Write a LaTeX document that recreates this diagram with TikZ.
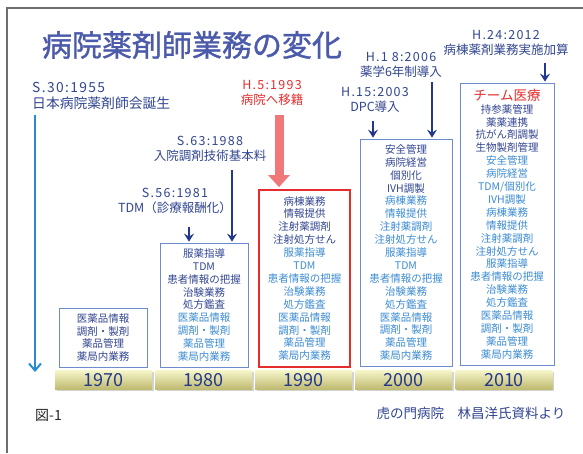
\documentclass[tikz,border=0pt]{standalone}
\usepackage{fontspec}
\setmainfont{Noto Sans CJK JP}
\usetikzlibrary{arrows.meta,shadows}
\definecolor{navy}{RGB}{50,70,145}
\definecolor{ltblue}{RGB}{60,140,210}
\definecolor{boxblue}{RGB}{110,140,205}
\definecolor{redc}{RGB}{230,45,45}
\definecolor{redarrow}{RGB}{240,120,120}
\definecolor{arrnavy}{RGB}{35,55,140}
\definecolor{tlblue}{RGB}{40,140,210}
\definecolor{framegray}{RGB}{110,110,110}
\definecolor{bartop}{RGB}{245,245,200}
\definecolor{barbot}{RGB}{190,185,110}
\definecolor{titleblue}{RGB}{75,90,170}
\newcommand\dkl[1]{\textcolor{navy}{#1}}
\newcommand\ltl[1]{\textcolor{ltblue}{#1}}
\newcommand\wdate[1]{{\addfontfeature{LetterSpace=10}#1}}
\begin{document}
\begin{tikzpicture}[x=1pt,y=-1pt,
  era/.style={draw=boxblue, line width=0.8pt, inner sep=0pt, align=center, font=\fontsize{10.5}{12.9}\selectfont},
  yearbar/.style={minimum width=97pt, minimum height=19pt, inner sep=0pt, top color=bartop, bottom color=barbot, draw=none, drop shadow={shadow xshift=1.5pt,shadow yshift=-1.5pt,opacity=0.35}, font=\fontsize{18}{18}\selectfont, text=arrnavy},
  evlabel/.style={align=center, font=\fontsize{12.5}{15}\selectfont, text=navy, inner sep=0pt},
  navyarrow/.style={draw=arrnavy, line width=2pt, shorten >=1pt, -{Stealth[length=8pt,width=10pt,inset=3pt]}},
  titlestyle/.style={font=\fontsize{30}{30}\selectfont\addfontfeature{FakeBold=1.2}, text=titleblue, inner sep=0pt},
]
\useasboundingbox (0,0) rectangle (583,453);
\fill[white] (0,0) rectangle (583,453);
% frame
\draw[framegray, line width=1.6pt] (7,453) -- (7,8) -- (583,8);
% title
\node[titlestyle] (title) at (192,45) {病院薬剤師業務の変化};

% event labels
\node[evlabel, anchor=west, align=left, font=\fontsize{13.8}{16}\selectfont] (l1955) at (32,96) {\wdate{S.30:1955}\\日本病院薬剤師会誕生};
\node[evlabel, text=redc] (l1993) at (272,93) {\wdate{H.5:1993}\\病院へ移籍};
\node[evlabel] (l1988) at (210,149) {\wdate{S.63:1988}\\入院調剤技術基本料};
\node[evlabel] (l1981) at (175,201) {\wdate{S.56:1981}\\TDM（診療報酬化）};
\node[evlabel] (l2003) at (375,100) {\wdate{H.15:2003}\\DPC導入};
\node[evlabel] (l2006) at (401,65) {\wdate{H.1 8:2006}\\薬学6年制導入};
\node[evlabel] (l2012) at (506,43) {\wdate{H.24:2012}\\病棟薬剤業務実施加算};

% era boxes
\node[era, minimum width=88pt, minimum height=59pt] (b1970) at (103,337.5)
 {\dkl{医薬品情報}\\\dkl{調剤・製剤}\\\dkl{薬品管理}\\\dkl{薬局内業務}};
\node[era, minimum width=88pt, minimum height=124pt] (b1980) at (204,305)
 {\dkl{服薬指導}\\\dkl{TDM}\\\dkl{患者情報の把握}\\\dkl{治験業務}\\\dkl{処方鑑査}\\
  \ltl{医薬品情報}\\\ltl{調剤・製剤}\\\ltl{薬品管理}\\\ltl{薬局内業務}};
\node[era, draw=redc, line width=1.8pt, minimum width=91pt, minimum height=177pt] (b1990) at (304.5,278.5)
 {\dkl{病棟業務}\\\dkl{情報提供}\\\dkl{注射薬調剤}\\\dkl{注射処方せん}\\
  \ltl{服薬指導}\\\ltl{TDM}\\\ltl{患者情報の把握}\\\ltl{治験業務}\\\ltl{処方鑑査}\\
  \ltl{医薬品情報}\\\ltl{調剤・製剤}\\\ltl{薬品管理}\\\ltl{薬局内業務}};
\node[era, minimum width=92pt, minimum height=227pt] (b2000) at (406,252.5)
 {\dkl{安全管理}\\\dkl{病院経営}\\\dkl{個別化}\\\dkl{IVH調製}\\
  \ltl{病棟業務}\\\ltl{情報提供}\\\ltl{注射薬調剤}\\\ltl{注射処方せん}\\
  \ltl{服薬指導}\\\ltl{TDM}\\\ltl{患者情報の把握}\\\ltl{治験業務}\\\ltl{処方鑑査}\\
  \ltl{医薬品情報}\\\ltl{調剤・製剤}\\\ltl{薬品管理}\\\ltl{薬局内業務}};
\node[era, minimum width=94pt, minimum height=282pt] (b2010) at (507,224)
 {{\fontsize{13.5}{15}\selectfont\textcolor{redc}{チーム医療}}\\
  \dkl{持参薬管理}\\\dkl{薬薬連携}\\\dkl{抗がん剤調製}\\\dkl{生物製剤管理}\\
  \ltl{安全管理}\\\ltl{病院経営}\\\ltl{TDM/個別化}\\\ltl{IVH調製}\\
  \ltl{病棟業務}\\\ltl{情報提供}\\\ltl{注射薬調剤}\\\ltl{注射処方せん}\\
  \ltl{服薬指導}\\\ltl{患者情報の把握}\\\ltl{治験業務}\\\ltl{処方鑑査}\\
  \ltl{医薬品情報}\\\ltl{調剤・製剤}\\\ltl{薬品管理}\\\ltl{薬局内業務}};

% year bars
\node[yearbar] (y1970) at (103.5,380) {1970};
\node[yearbar] (y1980) at (203.5,380) {1980};
\node[yearbar] (y1990) at (303.5,380) {1990};
\node[yearbar] (y2000) at (403.5,380) {2000};
\node[yearbar] (y2010) at (504,380) {2010};

% timeline arrow
\coordinate (tlstart) at (35,115);
\coordinate (tlend) at (35,372);
\draw[tlblue, line width=2pt, -{Straight Barb[length=7pt,width=12pt]}] (tlstart) -- (tlend);

% red arrow
\coordinate (rstart) at (279,115);
\draw[redarrow, line width=9pt, shorten >=2pt, -{Triangle[length=12pt,width=21pt]}] (rstart) -- (b1990.north -| rstart);

% navy arrows
\coordinate (a1981) at (189,227);
\coordinate (a1988) at (232,170);
\coordinate (a2003) at (373,121);
\coordinate (a2006) at (432,82);
\coordinate (a2012) at (545,63);
\draw[navyarrow] (a1981) -- (b1980.north -| a1981);
\draw[navyarrow] (a1988) -- (b1980.north -| a1988);
\draw[navyarrow] (a2003) -- (b2000.north -| a2003);
\draw[navyarrow] (a2006) -- (b2000.north -| a2006);
\draw[navyarrow] (a2012) -- (b2010.north -| a2012);

% footer
\node[anchor=west, font=\fontsize{14}{14}\selectfont, text=black!85, inner sep=0pt] (fig) at (35,415) {図-1};
\node[font=\fontsize{13.5}{14}\selectfont, text=navy, inner sep=0pt] (credit) at (471,413) {虎の門病院　林昌洋氏資料より};
\end{tikzpicture}
\end{document}
